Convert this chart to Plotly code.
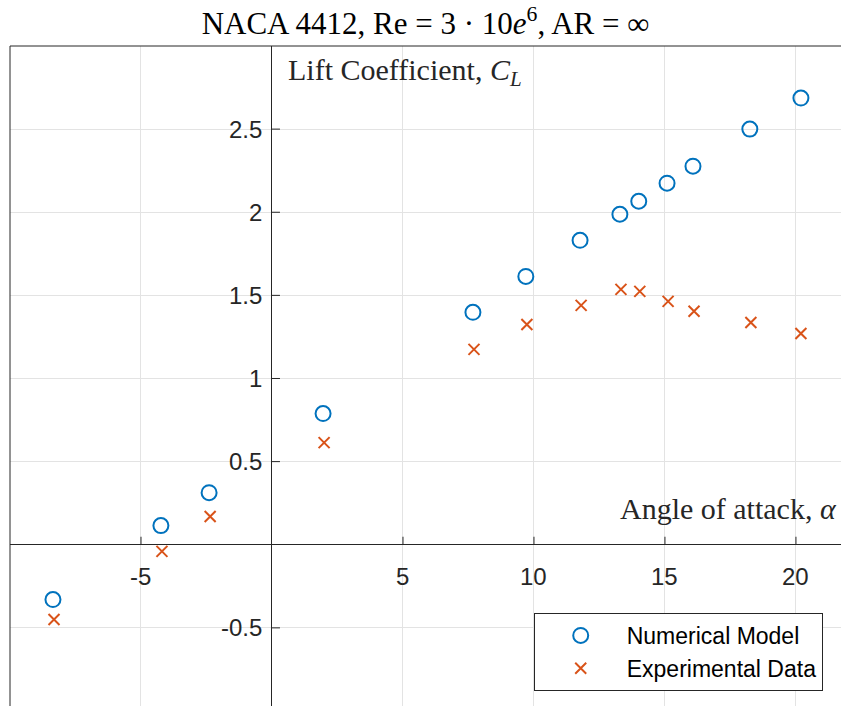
import plotly.graph_objects as go

# Data
alpha_num = [-8.36, -4.24, -2.40, 1.95, 7.67, 9.69, 11.76, 13.28, 14.0, 15.08, 16.07, 18.24, 20.19]
cl_num = [-0.33, 0.115, 0.313, 0.789, 1.398, 1.614, 1.831, 1.988, 2.066, 2.175, 2.277, 2.50, 2.687]
alpha_exp = [-8.32, -4.20, -2.36, 1.99, 7.71, 9.73, 11.80, 13.32, 14.04, 15.12, 16.11, 18.28, 20.19]
cl_exp = [-0.45, -0.04, 0.17, 0.614, 1.175, 1.325, 1.44, 1.536, 1.524, 1.464, 1.404, 1.337, 1.271]

x_ticks = [-5, 5, 10, 15, 20]
x_tick_labels = ["-5", "5", "10", "15", "20"]
y_ticks = [-0.5, 0.5, 1, 1.5, 2, 2.5]
y_tick_labels = ["-0.5", "0.5", "1", "1.5", "2", "2.5"]

x_range = [-10, 21.72]
y_range = [-0.97, 3.0]

axis_color = "#262626"
grid_color = "#e3e3e3"
sans = "Liberation Sans, Arial, sans-serif"
serif = "Liberation Serif, Times New Roman, serif"

fig = go.Figure()
fig.add_trace(go.Scatter(
    x=alpha_num, y=cl_num, mode="markers", name="Numerical Model",
    marker=dict(symbol="circle-open", size=15, color="#0072BD", line=dict(width=2, color="#0072BD")),
))
fig.add_trace(go.Scatter(
    x=alpha_exp, y=cl_exp, mode="markers", name="Experimental Data",
    marker=dict(symbol="x-thin-open", size=11, color="#D95319", line=dict(width=2, color="#D95319")),
))

fig.update_xaxes(
    range=x_range, tickvals=[-10] + x_ticks, showticklabels=False, ticks="",
    showgrid=True, gridcolor=grid_color, gridwidth=1,
    zeroline=True, zerolinecolor=axis_color, zerolinewidth=1, showline=False,
)
fig.update_yaxes(
    range=y_range, tickvals=y_ticks, showticklabels=False, ticks="",
    showgrid=True, gridcolor=grid_color, gridwidth=1,
    zeroline=True, zerolinecolor=axis_color, zerolinewidth=1, showline=False,
)

shapes = []
annotations = []
# box (left and top edges)
shapes.append(dict(type="line", xref="paper", yref="paper", x0=0, x1=0, y0=0, y1=1,
                   line=dict(color=axis_color, width=1)))
shapes.append(dict(type="line", xref="paper", yref="paper", x0=0, x1=1, y0=1, y1=1,
                   line=dict(color=axis_color, width=1)))
# ticks at origin axes
for v, lab in zip(x_ticks, x_tick_labels):
    shapes.append(dict(type="line", xref="x", yref="y", x0=v, x1=v, ysizemode="pixel",
                       yanchor=0, y0=0, y1=8, line=dict(color=axis_color, width=1)))
    annotations.append(dict(x=v, y=0, xref="x", yref="y", text=lab, showarrow=False,
                            yshift=-32, font=dict(family=sans, size=24, color=axis_color)))
for v, lab in zip(y_ticks, y_tick_labels):
    shapes.append(dict(type="line", xref="x", yref="y", y0=v, y1=v, xsizemode="pixel",
                       xanchor=0, x0=0, x1=8, line=dict(color=axis_color, width=1)))
    annotations.append(dict(x=0, y=v, xref="x", yref="y", text=lab, showarrow=False,
                            xanchor="right", xshift=-8, font=dict(family=sans, size=24, color=axis_color)))

# axis labels
annotations.append(dict(x=0, y=1, xref="x", yref="paper", xanchor="left", yanchor="top",
                        xshift=14, yshift=-5, showarrow=False,
                        text="Lift Coefficient, <i>C<sub>L</sub></i>",
                        font=dict(family=serif, size=30, color=axis_color)))
annotations.append(dict(x=1, y=0, xref="paper", yref="y", xanchor="right", yanchor="bottom",
                        xshift=-2, yshift=18, showarrow=False,
                        text="Angle of attack, <i>α</i>",
                        font=dict(family=serif, size=30, color=axis_color)))

fig.update_layout(
    width=841, height=706,
    margin=dict(l=10, r=0, t=46, b=0),
    paper_bgcolor="white", plot_bgcolor="white",
    title=dict(text="NACA 4412, Re = 3 · 10<i>e</i><sup>6</sup>, AR = ∞",
               x=0.5, xref="paper", xanchor="center", y=1, yref="container", yanchor="top",
               pad=dict(t=12),
               font=dict(family=serif, size=31, color="black")),
    shapes=shapes, annotations=annotations,
    legend=dict(x=0.978, y=0.141, xref="paper", yref="paper", xanchor="right", yanchor="top",
                bgcolor="white", bordercolor="#262626", borderwidth=1,
                font=dict(family=sans, size=23, color="black"),
                itemwidth=82, tracegroupgap=0),
    showlegend=True,
)

fig.write_html("out.html")
